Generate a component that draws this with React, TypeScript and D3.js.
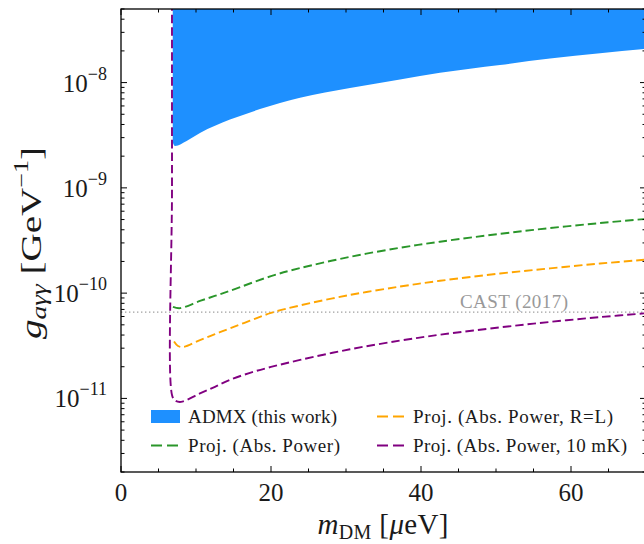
import React from 'react';
import * as d3 from 'd3';

// ---------- data ----------
const admxMass = [6.9, 7.2, 8.75, 10.53, 14.53, 18.53, 23.87, 30.53, 37.2, 42.53, 50.53, 57.2, 63.87, 70];
const admxLimit = [2.7e-9, 2.5e-9, 2.79e-9, 3.32e-9, 4.45e-9, 5.6e-9, 7.19e-9, 8.89e-9, 1.07e-8, 1.24e-8, 1.47e-8, 1.69e-8, 1.9e-8, 2.09e-8];

const absPowerMass = [6.93, 7.87, 10.53, 12.5, 14.53, 20, 23.87, 30.53, 37.2, 42.53, 50.53, 57.2, 63.87, 70];
const absPowerG = [7.4e-11, 7.2e-11, 8.43e-11, 9.4e-11, 1.053e-10, 1.45e-10, 1.73e-10, 2.21e-10, 2.7e-10, 3.08e-10, 3.66e-10, 4.15e-10, 4.63e-10, 5.07e-10];

const rlMass = [7.07, 7.6, 8.27, 10.53, 12.53, 14.53, 17.2, 20, 23.87, 30.53, 37.2, 42.53, 50.53, 57.2, 63.87, 70];
const rlG = [3.48e-11, 3.15e-11, 3.08e-11, 3.58e-11, 4.08e-11, 4.64e-11, 5.47e-11, 6.49e-11, 7.64e-11, 9.61e-11, 1.155e-10, 1.31e-10, 1.535e-10, 1.72e-10, 1.91e-10, 2.08e-10];

const mkMass = [6.8, 6.8, 6.8, 7.2, 8.0, 10.53, 12.53, 14.53, 17.2, 20, 23.87, 30.53, 37.2, 42.53, 50.53, 57.2, 63.87, 70];
const mkG = [1e-7, 1e-9, 1.08e-11, 9.57e-12, 9.27e-12, 1.115e-11, 1.29e-11, 1.5e-11, 1.75e-11, 1.99e-11, 2.32e-11, 2.93e-11, 3.54e-11, 4.03e-11, 4.73e-11, 5.33e-11, 5.92e-11, 6.44e-11];

const castLimit = 6.6e-11;
const castLabel = 'CAST (2017)';

const xDomain = [0, 70];
const yDomain = [2e-12, 5e-8];
const xMajorTicks = [0, 20, 40, 60];
const xMinorStep = 5;
const yTickExponents = [-11, -10, -9, -8];

const legendLabels = ['ADMX (this work)', 'Proj. (Abs. Power)', 'Proj. (Abs. Power, R=L)', 'Proj. (Abs. Power, 10 mK)'];

// ---------- layout ----------
const W = 644;
const H = 544;
const L = 121;
const R = 646;
const T = 9;
const B = 472;
const FONT = "'Liberation Serif', 'Times New Roman', Times, serif";

const COL_BLUE = '#1e90ff';
const COL_GREEN = '#2a962a';
const COL_ORANGE = '#ffa500';
const COL_PURPLE = '#800080';
const DASH = '8.5,4';
const TEXT = '#1a1a1a';

export default function App() {
  const x = d3.scaleLinear().domain(xDomain).range([L, R]);
  const y = d3.scaleLog().domain(yDomain).range([B, T]);

  const area = d3
    .area<number>()
    .x((_, i) => x(admxMass[i]))
    .y0(() => y(1e-6))
    .y1((d) => y(d))
    .curve(d3.curveMonotoneX);

  const line = d3
    .line<[number, number]>()
    .x((d) => x(d[0]))
    .y((d) => y(d[1]))
    .curve(d3.curveCatmullRom.alpha(0.5));

  const zip = (a: number[], b: number[]) => a.map((v, i) => [v, b[i]] as [number, number]);

  const xMinor = d3.range(xDomain[0], xDomain[1] + 0.001, xMinorStep);
  const yAll = y.ticks();
  const yMinor = yAll.filter((v) => Math.abs(Math.log10(v) - Math.round(Math.log10(v))) > 1e-6);
  const yMajor = yTickExponents.map((e) => Math.pow(10, e));

  const majorLen = 6;
  const minorLen = 3.5;

  return (
    <svg
      width={W}
      height={H}
      style={{ position: 'absolute', left: 0, top: 0, background: '#fff', fontFamily: FONT }}
    >
      <defs>
        <clipPath id="plotClip">
          <rect x={L} y={T} width={R - L} height={B - T} />
        </clipPath>
      </defs>
      <rect x={0} y={0} width={W} height={H} fill="#fff" />

      <g clipPath="url(#plotClip)">
        <path d={area(admxLimit) || ''} fill={COL_BLUE} />
        <line
          x1={L}
          x2={R}
          y1={y(castLimit)}
          y2={y(castLimit)}
          stroke="#a0a0a0"
          strokeWidth={1.3}
          strokeDasharray="1.4,2.6"
        />
        <path d={line(zip(absPowerMass, absPowerG)) || ''} fill="none" stroke={COL_GREEN} strokeWidth={1.9} strokeDasharray={DASH} />
        <path d={line(zip(rlMass, rlG)) || ''} fill="none" stroke={COL_ORANGE} strokeWidth={1.9} strokeDasharray={DASH} />
        <path d={line(zip(mkMass, mkG)) || ''} fill="none" stroke={COL_PURPLE} strokeWidth={1.9} strokeDasharray={DASH} />
      </g>

      <text x={460} y={307.5} fontSize={19} fill="#999" textLength={108}>
        {castLabel}
      </text>

      {/* legend */}
      <g fontSize={19} fill={TEXT}>
        <rect x={151} y={410} width={29} height={13} fill={COL_BLUE} />
        <text x={188} y={423} textLength={149}>{legendLabels[0]}</text>
        <line x1={151} x2={178} y1={445.5} y2={445.5} stroke={COL_GREEN} strokeWidth={1.9} strokeDasharray="11,5" />
        <text x={188} y={452} textLength={152}>{legendLabels[1]}</text>
        <line x1={377} x2={404} y1={416.5} y2={416.5} stroke={COL_ORANGE} strokeWidth={1.9} strokeDasharray="11,5" />
        <text x={413} y={423} textLength={200}>{legendLabels[2]}</text>
        <line x1={377} x2={404} y1={445.5} y2={445.5} stroke={COL_PURPLE} strokeWidth={1.9} strokeDasharray="11,5" />
        <text x={413} y={452} textLength={214}>{legendLabels[3]}</text>
      </g>

      {/* ticks */}
      <g stroke="#000" strokeWidth={1}>
        {xMinor.map((v) => {
          const len = xMajorTicks.includes(v) ? majorLen : minorLen;
          return (
            <g key={'xt' + v}>
              <line x1={x(v)} x2={x(v)} y1={B} y2={B - len} />
              <line x1={x(v)} x2={x(v)} y1={T} y2={T + len} />
            </g>
          );
        })}
        {yMinor.map((v) => (
          <g key={'ym' + v}>
            <line x1={L} x2={L + minorLen} y1={y(v)} y2={y(v)} />
            <line x1={R} x2={R - minorLen} y1={y(v)} y2={y(v)} />
          </g>
        ))}
        {yMajor.map((v) => (
          <g key={'yM' + v}>
            <line x1={L} x2={L + majorLen} y1={y(v)} y2={y(v)} />
            <line x1={R} x2={R - majorLen} y1={y(v)} y2={y(v)} />
          </g>
        ))}
      </g>

      {/* spines */}
      <rect x={L} y={T} width={R - L} height={B - T} fill="none" stroke="#000" strokeWidth={1.3} />

      {/* tick labels */}
      <g fontSize={25} fill={TEXT}>
        {xMajorTicks.map((v) => (
          <text key={'xl' + v} x={x(v)} y={501} textAnchor="middle">
            {String(v)}
          </text>
        ))}
        {yTickExponents.map((e) => (
          <text key={'yl' + e} x={107} y={y(Math.pow(10, e)) + 9} textAnchor="end">
            <tspan>10</tspan>
            <tspan fontSize={18} dy={-12}>{'\u2212' + Math.abs(e)}</tspan>
          </text>
        ))}
      </g>

      {/* axis labels */}
      <text x={383} y={534} fontSize={29} textAnchor="middle" fill={TEXT} textLength={131}>
        <tspan fontStyle="italic">m</tspan>
        <tspan fontSize={20} dy={5}>DM</tspan>
        <tspan dy={-5}>{' ['}</tspan>
        <tspan fontStyle="italic">μ</tspan>
        <tspan>eV]</tspan>
      </text>
      <text
        transform="translate(41,243) rotate(-90)"
        fontSize={30}
        textAnchor="middle"
        fill={TEXT}
        textLength={192}
        lengthAdjust="spacingAndGlyphs"
      >
        <tspan fontStyle="italic">g</tspan>
        <tspan fontStyle="italic" fontSize={21} dy={5}>aγγ</tspan>
        <tspan dy={-5}>{' [GeV'}</tspan>
        <tspan fontSize={20} dy={-13}>{'\u22121'}</tspan>
        <tspan dy={13}>]</tspan>
      </text>
    </svg>
  );
}
